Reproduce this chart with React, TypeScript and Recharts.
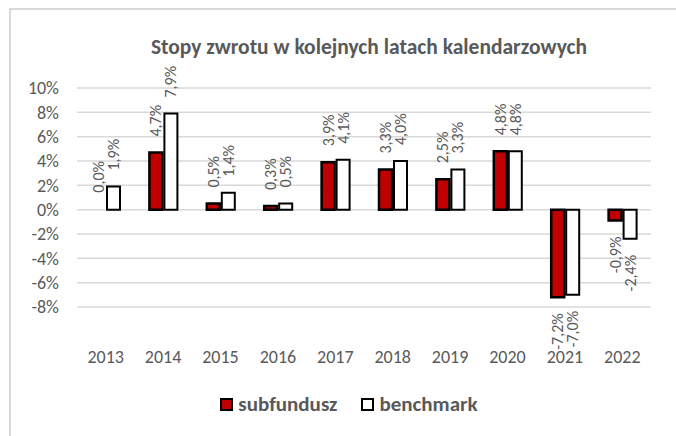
import { BarChart, Bar, XAxis, YAxis, CartesianGrid, LabelList, Rectangle } from "recharts";

const years = ["2013", "2014", "2015", "2016", "2017", "2018", "2019", "2020", "2021", "2022"];
const subfundusz = [0.0, 4.7, 0.5, 0.3, 3.9, 3.3, 2.5, 4.8, -7.2, -0.9];
const benchmark = [1.9, 7.9, 1.4, 0.5, 4.1, 4.0, 3.3, 4.8, -7.0, -2.4];
const yTicks = [-8, -6, -4, -2, 0, 2, 4, 6, 8, 10];

const data = years.map((year, i) => ({
  year,
  subfundusz: subfundusz[i],
  benchmark: benchmark[i],
}));

const FONT = "Carlito, Lato, 'Open Sans', sans-serif";
const GRAY = "#595959";

const fmt = (v: number) => `${v.toFixed(1).replace(".", ",")}%`;

function RotatedLabel(props: any) {
  const { x, y, width, height, value } = props;
  if (value == null) return null;
  const cx = x + width / 2;
  const top = Math.min(y, y + height);
  const bottom = Math.max(y, y + height);
  const gap = 16;
  const neg = value < 0;
  const ay = neg ? bottom + gap : top - gap;
  return (
    <text
      x={cx}
      y={ay}
      transform={`rotate(-90 ${cx} ${ay})`}
      textAnchor={neg ? "end" : "start"}
      dominantBaseline="central"
      fill={GRAY}
      fontSize={16}
      fontFamily={FONT}
    >
      {fmt(value)}
    </text>
  );
}

function XTick(props: any) {
  const { x, y, payload } = props;
  return (
    <text x={x} y={y + 48} textAnchor="middle" fill={GRAY} fontSize={18} fontFamily={FONT}>
      {payload.value}
    </text>
  );
}

// zero-height bars keep their label but draw nothing
function FundShape(props: any) {
  if (props.payload && props.payload.subfundusz === 0) return <g />;
  return <Rectangle {...props} />;
}

function LegendBox() {
  return (
    <div
      style={{
        position: "absolute",
        top: 391,
        left: 0,
        width: 676,
        display: "flex",
        justifyContent: "center",
        paddingLeft: 22,
        boxSizing: "border-box",
        fontFamily: FONT,
        fontWeight: "bold",
        fontSize: 21,
        color: GRAY,
      }}
    >
      <div style={{ display: "flex", alignItems: "center", marginRight: 24 }}>
        <span style={{ width: 9, height: 9, background: "#C00000", border: "2px solid #000", marginRight: 5 }} />
        subfundusz
      </div>
      <div style={{ display: "flex", alignItems: "center" }}>
        <span style={{ width: 9, height: 9, background: "#fff", border: "2px solid #000", marginRight: 5 }} />
        benchmark
      </div>
    </div>
  );
}

export default function App() {
  return (
    <div style={{ position: "absolute", left: 0, top: 0, width: 676, height: 436, background: "#fff" }}>
      <div
        style={{
          position: "absolute",
          left: 9,
          top: 8,
          right: 0,
          bottom: 0,
          borderLeft: "2px solid #d9d9d9",
          borderTop: "2px solid #d9d9d9",
        }}
      />
      <div
        style={{
          position: "absolute",
          top: 34,
          left: 0,
          width: 738,
          textAlign: "center",
          fontFamily: FONT,
          fontWeight: "bold",
          fontSize: 21.5,
          color: GRAY,
        }}
      >
        Stopy zwrotu w kolejnych latach kalendarzowych
      </div>
      <div style={{ position: "absolute", left: 0, top: 0 }}>
        <BarChart
          width={676}
          height={436}
          data={data}
          margin={{ top: 88, right: 25, bottom: 69, left: 0 }}
          barSize={13}
          barGap={2}
        >
          <CartesianGrid vertical={false} stroke="#d9d9d9" strokeWidth={1.5} />
          <XAxis
            dataKey="year"
            axisLine={false}
            tickLine={false}
            height={60}
            tick={<XTick />}
            interval={0}
          />
          <YAxis
            domain={[-8, 10]}
            ticks={yTicks}
            interval={0}
            width={77}
            axisLine={false}
            tickLine={false}
            tickMargin={12}
            tickFormatter={(v) => `${v}%`}
            tick={{ fill: GRAY, fontSize: 18, fontFamily: FONT }}
          />
          <Bar
            dataKey="subfundusz"
            fill="#C00000"
            stroke="#000"
            strokeWidth={2.5}
            minPointSize={1}
            shape={<FundShape />}
            isAnimationActive={false}
          >
            <LabelList dataKey="subfundusz" content={<RotatedLabel />} />
          </Bar>
          <Bar dataKey="benchmark" fill="#fff" stroke="#000" strokeWidth={2} isAnimationActive={false}>
            <LabelList dataKey="benchmark" content={<RotatedLabel />} />
          </Bar>
        </BarChart>
      </div>
      <LegendBox />
    </div>
  );
}
